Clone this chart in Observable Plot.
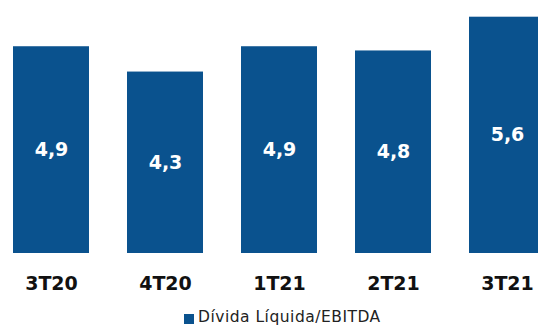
<!DOCTYPE html>
<html>
<head>
<meta charset="utf-8">
<script src="https://cdn.jsdelivr.net/npm/d3@7"></script>
<script src="https://cdn.jsdelivr.net/npm/@observablehq/plot@0.6"></script>
<style>
  html, body { margin: 0; padding: 0; background: #fff; width: 538px; height: 327px; overflow: hidden; }
  #chart svg { display: block; overflow: hidden; }
  .legend { position: relative; height: 23px; font-family: "DejaVu Sans", Verdana, sans-serif; font-size: 15.5px; letter-spacing: 0.5px; color: #222; }
  .legend .sw { position: absolute; left: 184px; top: 10px; width: 10px; height: 10px; background: #0a528e; }
  .legend .lb { position: absolute; left: 198px; top: 4px; line-height: 18px; }
</style>
</head>
<body>
<div id="chart"></div>
<div class="legend"><span class="sw"></span><span class="lb" id="lb"></span></div>
<script>
const categories = ["3T20", "4T20", "1T21", "2T21", "3T21"];
const values = [4.9, 4.3, 4.9, 4.8, 5.6];
const valueLabels = ["4,9", "4,3", "4,9", "4,8", "5,6"];
const seriesName = "Dívida Líquida/EBITDA";

const data = categories.map((c, i) => ({cat: c, value: values[i], label: valueLabels[i]}));
const color = "#0a528e";

const chart = Plot.plot({
  width: 538,
  height: 304,
  marginBottom: 51,
  marginTop: 16,
  x: {domain: categories, range: [-26.3, 583.2], padding: 0.335, label: null},
  y: {domain: [0, 5.6], range: [253, 16.7], axis: null},
  style: {fontFamily: "'DejaVu Sans', Verdana, sans-serif", background: "#fff"},
  marks: [
    Plot.barY(data, {x: "cat", y: "value", fill: color}),
    Plot.text(data, {x: "cat", y: d => d.value / 2, text: "label", fill: "white", fontSize: 19, fontWeight: "bold"}),
    Plot.axisX({tickSize: 0, tickPadding: 23, fontSize: 19, fontWeight: "bold", fill: "#111", label: null})
  ]
});
document.getElementById("chart").appendChild(chart);
document.getElementById("lb").textContent = seriesName;
</script>
</body>
</html>
